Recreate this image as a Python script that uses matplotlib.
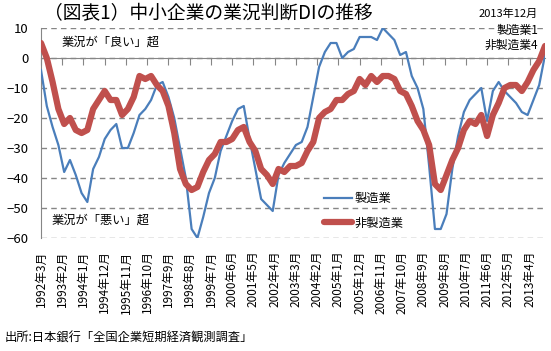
import matplotlib
matplotlib.use("Agg")
import matplotlib.pyplot as plt

plt.rcParams['font.family'] = ['Noto Sans CJK JP', 'DejaVu Sans']

# %% Data: quarterly DI, 1992/3 .. 2013/12
month_step = 3
manufacturing = [-4, -16, -23, -29, -38, -34, -39, -45, -48, -37,
                 -33, -27, -24, -22, -30, -30, -25, -19, -17, -14,
                 -9, -8, -13, -20, -30, -40, -57, -60, -53, -45,
                 -40, -31, -26, -21, -17, -16, -27, -37, -47, -49,
                 -51, -39, -35, -32, -29, -28, -23, -13, -3, 2,
                 5, 5, 0, 2, 3, 7, 7, 7, 6, 10,
                 8, 6, 1, 2, -6, -10, -17, -36, -57, -57,
                 -52, -37, -26, -18, -14, -12, -10, -21, -11, -8,
                 -11, -13, -15, -18, -19, -14, -9, 1]
non_manufacturing = [5, 0, -8, -17, -22, -20, -24, -25, -24, -17,
                     -14, -11, -14, -14, -19, -17, -13, -6, -7, -6,
                     -9, -11, -16, -25, -37, -42, -44, -43, -38, -34,
                     -32, -28, -28, -27, -24, -23, -28, -31, -37, -39,
                     -42, -37, -38, -36, -36, -35, -31, -28, -20, -18,
                     -17, -14, -14, -12, -11, -7, -9, -6, -8, -6,
                     -6, -7, -11, -12, -16, -21, -24, -29, -42, -44,
                     -39, -34, -30, -24, -21, -22, -19, -26, -19, -15,
                     -10, -9, -9, -11, -8, -4, -1, 4]

# x tick labels every 11 months starting 1992/3
tick_step = 11
tick_labels = ["1992年3月", "1993年2月", "1994年1月", "1994年12月", "1995年11月",
               "1996年10月", "1997年9月", "1998年8月", "1999年7月", "2000年6月",
               "2001年5月", "2002年4月", "2003年3月", "2004年2月", "2005年1月",
               "2005年12月", "2006年11月", "2007年10月", "2008年9月", "2009年8月",
               "2010年7月", "2011年6月", "2012年5月", "2013年4月"]
y_ticks = list(range(-60, 11, 10))

months = [i * month_step for i in range(len(manufacturing))]
tick_pos = [i * tick_step for i in range(len(tick_labels))]

# %% Figure
W, H = 551, 351
fig = plt.figure(figsize=(W / 100, H / 100), dpi=100)
ax = fig.add_axes([41 / W, 1 - 238 / H, (545 - 41) / W, (238 - 28) / H])

gray = '#868686'
blue = '#4A7EBB'
red = '#C0504D'

ax.plot(months, manufacturing, color=blue, lw=1.6, label='製造業', zorder=3)
ax.plot(months, non_manufacturing, color=red, lw=4.5, label='非製造業',
        solid_capstyle='round', zorder=4)

ax.set_xlim(0, months[-1])
ax.set_ylim(-60, 10)
ax.set_yticks(y_ticks)
ax.yaxis.grid(True, linestyle=(0, (4, 3)), color=gray, lw=1, zorder=0)
ax.tick_params(axis='y', length=0, pad=9, labelsize=9.5)

for s in ['top', 'right']:
    ax.spines[s].set_visible(False)
ax.spines['left'].set_color(gray)
ax.spines['bottom'].set_color(gray)
ax.spines['bottom'].set_position(('data', 0))
ax.spines['bottom'].set_zorder(2)

# ticks on the zero line, labels at the bottom
ax.set_xticks(tick_pos)
ax.tick_params(axis='x', direction='out', length=5, color=gray, labelbottom=False)
sec = ax.secondary_xaxis('bottom')
sec.set_xticks(tick_pos, tick_labels, rotation=90, fontsize=8.5)
sec.tick_params(length=0, pad=9)
sec.spines['bottom'].set_visible(False)

# texts
fig.text(208 / W, 1 - 14 / H, '（図表1）中小企業の業況判断DIの推移', ha='center', va='center', fontsize=13.5)
fig.text(538 / W, 1 - 14 / H, '2013年12月', ha='right', va='center', fontsize=8)
fig.text(538 / W, 1 - 30 / H, '製造業1', ha='right', va='center', fontsize=8.5)
fig.text(538 / W, 1 - 45 / H, '非製造業4', ha='right', va='center', fontsize=8.5)
fig.text(62 / W, 1 - 42 / H, '業況が「良い」超', ha='left', va='center', fontsize=8.8)
fig.text(52 / W, 1 - 220 / H, '業況が「悪い」超', ha='left', va='center', fontsize=8.8)
fig.text(5 / W, 1 - 338 / H, '出所:日本銀行「全国企業短期経済観測調査」', ha='left', va='center', fontsize=8.8)

ax.legend(loc='upper left', bbox_to_anchor=(318 / W, 1 - 186 / H),
          bbox_transform=fig.transFigure, frameon=False, fontsize=8.8,
          handlelength=2.3, handletextpad=0.15, labelspacing=0.95, borderpad=0)

fig.savefig('out.png', dpi=100)
